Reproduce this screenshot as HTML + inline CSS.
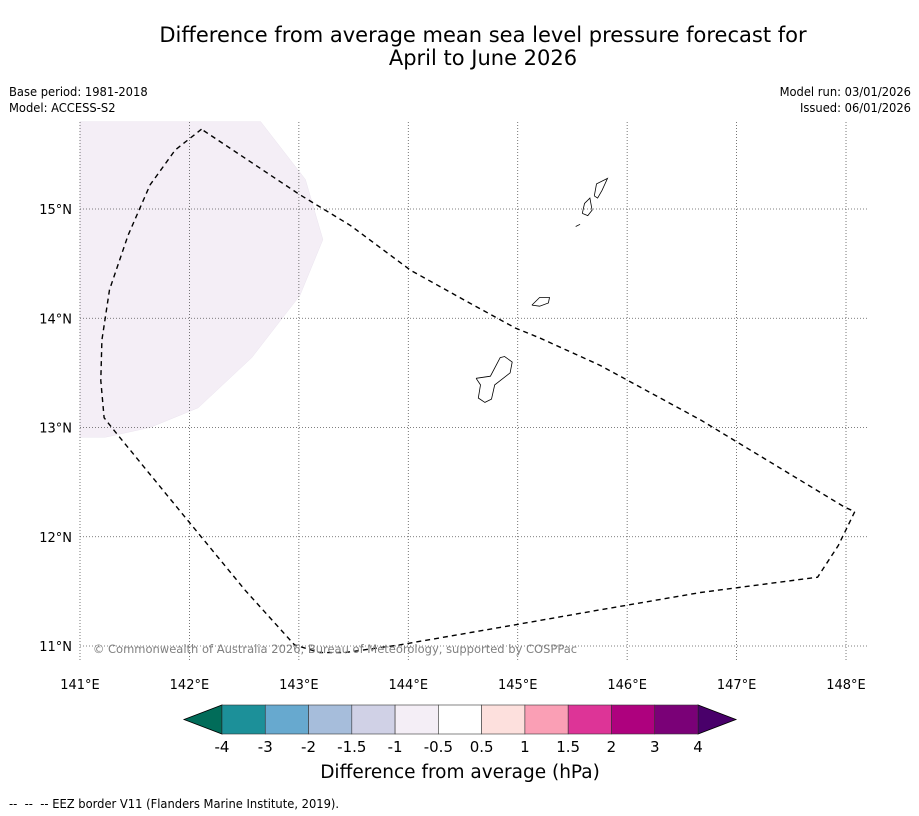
<!DOCTYPE html>
<html><head><meta charset="utf-8">
<style>
html,body{margin:0;padding:0;background:#fff;}
svg{display:block;font-family:"DejaVu Sans","Liberation Sans",sans-serif;}
.small{font-family:"DejaVu Sans Condensed","DejaVu Sans","Liberation Sans",sans-serif;font-size:12.8px;}
</style></head>
<body>
<svg id="chart" width="919" height="816" xmlns="http://www.w3.org/2000/svg">
<text x="483" y="42" text-anchor="middle" font-size="21">Difference from average mean sea level pressure forecast for</text>
<text x="483" y="65" text-anchor="middle" font-size="21">April to June 2026</text>
<text class="small" x="9" y="96">Base period: 1981-2018</text>
<text class="small" x="9" y="112">Model: ACCESS-S2</text>
<text class="small" x="911" y="96" text-anchor="end">Model run: 03/01/2026</text>
<text class="small" x="911" y="112" text-anchor="end">Issued: 06/01/2026</text>
<g id="map"></g>
<text x="335" y="653" text-anchor="middle" font-size="11.5" fill="#808080">© Commonwealth of Australia 2026, Bureau of Meteorology, supported by COSPPac</text>
<g id="cbar"></g>
<text x="460" y="778" text-anchor="middle" font-size="18.5">Difference from average (hPa)</text>
<text class="small" x="9" y="808" style="white-space:pre">--  --  -- EEZ border V11 (Flanders Marine Institute, 2019).</text>
</svg>
<script>
const lonTicks = [141,142,143,144,145,146,147,148];
const latTicks = [11,12,13,14,15];
const shadeRegion = [[141,15.8],[142.65,15.8],[143.06,15.27],[143.22,14.72],[143.01,14.21],[142.57,13.64],[142.08,13.18],[141.64,13.0],[141.23,12.91],[141,12.91]];
const eezBorder = [[142.11,15.73],[141.87,15.54],[141.64,15.22],[141.44,14.76],[141.27,14.26],[141.2,13.8],[141.19,13.43],[141.22,13.09],[141.29,13.0],[141.91,12.24],[142.51,11.51],[142.96,11.01],[143.19,10.94],[143.42,10.94],[143.92,11.01],[144.84,11.17],[145.75,11.33],[146.67,11.49],[147.74,11.63],[147.93,11.92],[148.08,12.23],[147.99,12.27],[146.67,13.07],[145.75,13.57],[145.2,13.82],[144.98,13.91],[144.56,14.14],[144.02,14.44],[143.47,14.85],[143.01,15.13],[142.11,15.73]];
const guam = [[144.62,13.45],[144.75,13.47],[144.84,13.64],[144.88,13.65],[144.95,13.6],[144.93,13.5],[144.79,13.39],[144.76,13.26],[144.7,13.23],[144.64,13.27],[144.66,13.39],[144.62,13.45]];
const rota = [[145.13,14.12],[145.2,14.19],[145.29,14.19],[145.28,14.14],[145.2,14.11],[145.13,14.12]];
const tinian = [[145.59,14.96],[145.61,15.05],[145.66,15.1],[145.68,14.99],[145.64,14.94],[145.59,14.96]];
const saipan = [[145.7,15.12],[145.72,15.23],[145.82,15.28],[145.77,15.17],[145.73,15.1],[145.7,15.12]];
const aguijan = [[145.53,14.84],[145.57,14.86]];
const cbarLevels = ["-4","-3","-2","-1.5","-1","-0.5","0.5","1","1.5","2","3","4"];
const cbarColors = ["#1c9099","#67a9cf","#a6bddb","#d0d1e6","#f4eef6","#ffffff","#fde0dd","#fa9fb5","#dd3497","#ae017e","#7a0177"];
const cbarLowColor = "#016c59";
const cbarHighColor = "#49006a";

const NS="http://www.w3.org/2000/svg";
const X0=80,X1=868,Y0=122,Y1=660;
const xs = lon => 80 + (lon-141)*109.43;
const ys = lat => 209 - (lat-15)*109.25;
function mk(tag, attrs, parent){const e=document.createElementNS(NS,tag);for(const k in attrs)e.setAttribute(k,attrs[k]);parent.appendChild(e);return e;}
const map=document.getElementById('map');
const pts = arr => arr.map(p=>xs(p[0]).toFixed(1)+','+ys(p[1]).toFixed(1)).join(' ');

let sh=mk('polygon',{points:pts(shadeRegion),fill:'#f4eef6',stroke:'#ebe4ef','stroke-width':0.5},map);



lonTicks.forEach(l=>{
  const x=xs(l);
  let g=mk('line',{x1:x,y1:Y0,x2:x,y2:Y1,stroke:'#555','stroke-width':0.8,'stroke-dasharray':'1,2'},map);
  
  
  let t=mk('text',{x:x,y:689,'text-anchor':'middle','font-size':13},map);
  t.textContent=l+'°E';
  
  
});
latTicks.forEach(l=>{
  const y=ys(l);
  let g=mk('line',{x1:X0,y1:y,x2:X1,y2:y,stroke:'#555','stroke-width':0.8,'stroke-dasharray':'1,2'},map);
  
  
  let t=mk('text',{x:72,y:y+5,'text-anchor':'end','font-size':13},map);
  t.textContent=l+'°N';
  
  
});

let ez=mk('polyline',{points:pts(eezBorder),fill:'none',stroke:'#000','stroke-width':1.4,'stroke-dasharray':'5,4'},map);



[['guam',guam],['rota',rota],['tinian',tinian],['saipan',saipan],['aguijan',aguijan]].forEach(([n,a])=>{
  let p=mk('polyline',{points:pts(a),fill:'none',stroke:'#000','stroke-width':0.8},map);
  
  
});

const cb=document.getElementById('cbar');
const cbL=222, cbR=698, cbT=705, cbB=734;
const bw=(cbR-cbL)/cbarColors.length;
let lt=mk('polygon',{points:`${cbL},${cbT} ${cbL},${cbB} 184,${(cbT+cbB)/2}`,fill:cbarLowColor,stroke:'#000','stroke-width':0.8},cb);


let rt=mk('polygon',{points:`${cbR},${cbT} ${cbR},${cbB} 736,${(cbT+cbB)/2}`,fill:cbarHighColor,stroke:'#000','stroke-width':0.8},cb);


cbarColors.forEach((c,i)=>{
  let r=mk('rect',{x:cbL+i*bw,y:cbT,width:bw,height:cbB-cbT,fill:c,stroke:'#333','stroke-width':0.6},cb);
  
  
});
cbarLevels.forEach((l,i)=>{
  let t=mk('text',{x:cbL+i*bw,y:752,'text-anchor':'middle','font-size':15},cb);
  t.textContent=l;
  
  
});
</script>
</body></html>
